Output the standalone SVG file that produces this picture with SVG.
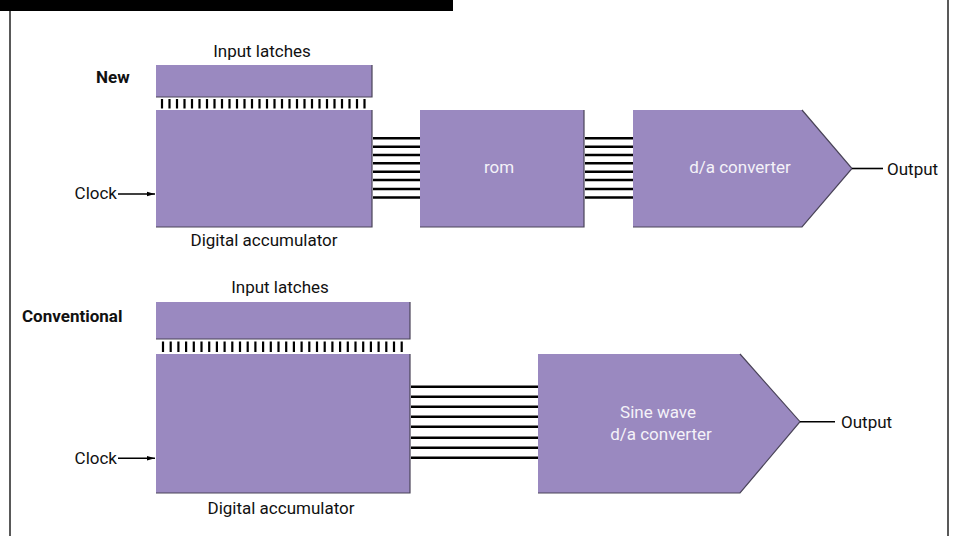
<svg xmlns="http://www.w3.org/2000/svg" width="959" height="536" viewBox="0 0 959 536">
<defs>
<marker id="arr" viewBox="0 0 8 6" refX="8" refY="3" markerWidth="8" markerHeight="6" markerUnits="userSpaceOnUse" orient="auto">
<path d="M0,0.8 L8,3 L0,5.2 Z" fill="#000"/>
</marker>
<style>
.blk{fill:#9a89c0;}
.edge{fill:none;stroke:#4a4458;stroke-width:1.2;}
.lbl{font-family:Roboto,"DejaVu Sans Condensed","Liberation Sans",sans-serif;font-size:17px;fill:#111;}
.bold{font-weight:bold;}
.in{font-family:Roboto,"DejaVu Sans Condensed","Liberation Sans",sans-serif;font-size:17px;fill:#f4f2f8;text-anchor:middle;}
.bus{stroke:#000;stroke-width:2.4;}
.tick{stroke:#000;stroke-width:2.2;}
.wire{stroke:#000;stroke-width:1.6;fill:none;}
.frame{stroke:#222;stroke-width:1.5;fill:none;}
</style>
</defs>
<rect width="959" height="536" fill="#fff"/>
<rect x="0" y="0" width="453" height="11" fill="#000"/>
<line class="frame" x1="10" y1="11" x2="10" y2="536"/>
<line class="frame" x1="948" y1="0" x2="948" y2="536"/>

<g id="label-new"><text class="lbl bold" x="96" y="83">New</text></g>
<g id="label-conventional"><text class="lbl bold" x="22" y="322">Conventional</text></g>

<g id="new-latches">
<rect class="blk" x="156" y="65" width="216" height="32"/>
<polyline class="edge" points="372,65 372,97 156,97"/>
<text class="lbl" x="262" y="57" text-anchor="middle">Input latches</text>
</g>
<g id="new-accumulator">
<rect class="blk" x="156" y="110" width="216" height="117"/>
<polyline class="edge" points="372,110 372,227 156,227"/>
<text class="lbl" x="264" y="246" text-anchor="middle">Digital accumulator</text>
</g>
<g id="new-rom">
<rect class="blk" x="420" y="110" width="164" height="117"/>
<polyline class="edge" points="584,110 584,227 420,227"/>
<text class="in" x="499" y="173">rom</text>
</g>
<g id="new-dac">
<polygon class="blk" points="633,110 802,110 852,168.5 802,227 633,227"/>
<polyline class="edge" points="802,110 852,168.5 802,227 633,227"/>
<text class="in" x="740" y="173">d/a converter</text>
</g>
<g id="new-clock"><text class="lbl" x="117" y="199" text-anchor="end">Clock</text></g>
<g id="new-output"><text class="lbl" x="887" y="175">Output</text></g>

<g id="conv-latches">
<rect class="blk" x="156" y="302" width="254" height="37"/>
<polyline class="edge" points="410,302 410,339 156,339"/>
<text class="lbl" x="280" y="293" text-anchor="middle">Input latches</text>
</g>
<g id="conv-accumulator">
<rect class="blk" x="156" y="354" width="254" height="139"/>
<polyline class="edge" points="410,354 410,493 156,493"/>
<text class="lbl" x="281" y="514" text-anchor="middle">Digital accumulator</text>
</g>
<g id="conv-dac">
<polygon class="blk" points="538,354 740,354 800,421.7 740,493 538,493"/>
<polyline class="edge" points="740,354 800,421.7 740,493 538,493"/>
<text class="in" x="658" y="418">Sine wave</text>
<text class="in" x="661" y="440">d/a converter</text>
</g>
<g id="conv-clock"><text class="lbl" x="117" y="464" text-anchor="end">Clock</text></g>
<g id="conv-output"><text class="lbl" x="841" y="428">Output</text></g>

<g id="connectors">
<g id="new-ticks">
<line class="tick" x1="162" y1="99" x2="162" y2="108.5"/>
<line class="tick" x1="169.5" y1="99" x2="169.5" y2="108.5"/>
<line class="tick" x1="177" y1="99" x2="177" y2="108.5"/>
<line class="tick" x1="184.5" y1="99" x2="184.5" y2="108.5"/>
<line class="tick" x1="192" y1="99" x2="192" y2="108.5"/>
<line class="tick" x1="199.5" y1="99" x2="199.5" y2="108.5"/>
<line class="tick" x1="207" y1="99" x2="207" y2="108.5"/>
<line class="tick" x1="214.5" y1="99" x2="214.5" y2="108.5"/>
<line class="tick" x1="222" y1="99" x2="222" y2="108.5"/>
<line class="tick" x1="229.5" y1="99" x2="229.5" y2="108.5"/>
<line class="tick" x1="237" y1="99" x2="237" y2="108.5"/>
<line class="tick" x1="244.5" y1="99" x2="244.5" y2="108.5"/>
<line class="tick" x1="252" y1="99" x2="252" y2="108.5"/>
<line class="tick" x1="259.5" y1="99" x2="259.5" y2="108.5"/>
<line class="tick" x1="267" y1="99" x2="267" y2="108.5"/>
<line class="tick" x1="274.5" y1="99" x2="274.5" y2="108.5"/>
<line class="tick" x1="282" y1="99" x2="282" y2="108.5"/>
<line class="tick" x1="289.5" y1="99" x2="289.5" y2="108.5"/>
<line class="tick" x1="297" y1="99" x2="297" y2="108.5"/>
<line class="tick" x1="304.5" y1="99" x2="304.5" y2="108.5"/>
<line class="tick" x1="312" y1="99" x2="312" y2="108.5"/>
<line class="tick" x1="319.5" y1="99" x2="319.5" y2="108.5"/>
<line class="tick" x1="327" y1="99" x2="327" y2="108.5"/>
<line class="tick" x1="334.5" y1="99" x2="334.5" y2="108.5"/>
<line class="tick" x1="342" y1="99" x2="342" y2="108.5"/>
<line class="tick" x1="349.5" y1="99" x2="349.5" y2="108.5"/>
<line class="tick" x1="357" y1="99" x2="357" y2="108.5"/>
<line class="tick" x1="364.5" y1="99" x2="364.5" y2="108.5"/>
</g>
<g id="conv-ticks">
<line class="tick" x1="163" y1="341.5" x2="163" y2="352"/>
<line class="tick" x1="170.7" y1="341.5" x2="170.7" y2="352"/>
<line class="tick" x1="178.4" y1="341.5" x2="178.4" y2="352"/>
<line class="tick" x1="186.1" y1="341.5" x2="186.1" y2="352"/>
<line class="tick" x1="193.8" y1="341.5" x2="193.8" y2="352"/>
<line class="tick" x1="201.5" y1="341.5" x2="201.5" y2="352"/>
<line class="tick" x1="209.2" y1="341.5" x2="209.2" y2="352"/>
<line class="tick" x1="216.9" y1="341.5" x2="216.9" y2="352"/>
<line class="tick" x1="224.6" y1="341.5" x2="224.6" y2="352"/>
<line class="tick" x1="232.3" y1="341.5" x2="232.3" y2="352"/>
<line class="tick" x1="240" y1="341.5" x2="240" y2="352"/>
<line class="tick" x1="247.7" y1="341.5" x2="247.7" y2="352"/>
<line class="tick" x1="255.4" y1="341.5" x2="255.4" y2="352"/>
<line class="tick" x1="263.1" y1="341.5" x2="263.1" y2="352"/>
<line class="tick" x1="270.8" y1="341.5" x2="270.8" y2="352"/>
<line class="tick" x1="278.5" y1="341.5" x2="278.5" y2="352"/>
<line class="tick" x1="286.2" y1="341.5" x2="286.2" y2="352"/>
<line class="tick" x1="293.9" y1="341.5" x2="293.9" y2="352"/>
<line class="tick" x1="301.6" y1="341.5" x2="301.6" y2="352"/>
<line class="tick" x1="309.3" y1="341.5" x2="309.3" y2="352"/>
<line class="tick" x1="317" y1="341.5" x2="317" y2="352"/>
<line class="tick" x1="324.7" y1="341.5" x2="324.7" y2="352"/>
<line class="tick" x1="332.4" y1="341.5" x2="332.4" y2="352"/>
<line class="tick" x1="340.1" y1="341.5" x2="340.1" y2="352"/>
<line class="tick" x1="347.8" y1="341.5" x2="347.8" y2="352"/>
<line class="tick" x1="355.5" y1="341.5" x2="355.5" y2="352"/>
<line class="tick" x1="363.2" y1="341.5" x2="363.2" y2="352"/>
<line class="tick" x1="370.9" y1="341.5" x2="370.9" y2="352"/>
<line class="tick" x1="378.6" y1="341.5" x2="378.6" y2="352"/>
<line class="tick" x1="386.3" y1="341.5" x2="386.3" y2="352"/>
<line class="tick" x1="394" y1="341.5" x2="394" y2="352"/>
<line class="tick" x1="401.7" y1="341.5" x2="401.7" y2="352"/>
</g>
<g id="bus-acc-rom">
<line class="bus" x1="373" y1="138.3" x2="420" y2="138.3"/>
<line class="bus" x1="373" y1="146.7" x2="420" y2="146.7"/>
<line class="bus" x1="373" y1="155" x2="420" y2="155"/>
<line class="bus" x1="373" y1="163.3" x2="420" y2="163.3"/>
<line class="bus" x1="373" y1="171.7" x2="420" y2="171.7"/>
<line class="bus" x1="373" y1="180" x2="420" y2="180"/>
<line class="bus" x1="373" y1="189" x2="420" y2="189"/>
<line class="bus" x1="373" y1="197.5" x2="420" y2="197.5"/>
</g>
<g id="bus-rom-dac">
<line class="bus" x1="585" y1="138.3" x2="633" y2="138.3"/>
<line class="bus" x1="585" y1="146.7" x2="633" y2="146.7"/>
<line class="bus" x1="585" y1="155" x2="633" y2="155"/>
<line class="bus" x1="585" y1="163.3" x2="633" y2="163.3"/>
<line class="bus" x1="585" y1="171.7" x2="633" y2="171.7"/>
<line class="bus" x1="585" y1="180" x2="633" y2="180"/>
<line class="bus" x1="585" y1="189" x2="633" y2="189"/>
<line class="bus" x1="585" y1="197.5" x2="633" y2="197.5"/>
</g>
<g id="bus-conv">
<line class="bus" x1="411" y1="386.7" x2="538" y2="386.7"/>
<line class="bus" x1="411" y1="396.7" x2="538" y2="396.7"/>
<line class="bus" x1="411" y1="406.7" x2="538" y2="406.7"/>
<line class="bus" x1="411" y1="416.7" x2="538" y2="416.7"/>
<line class="bus" x1="411" y1="426.7" x2="538" y2="426.7"/>
<line class="bus" x1="411" y1="437.7" x2="538" y2="437.7"/>
<line class="bus" x1="411" y1="447.7" x2="538" y2="447.7"/>
<line class="bus" x1="411" y1="457.7" x2="538" y2="457.7"/>
</g>
<line class="wire" x1="118" y1="194" x2="155" y2="194" marker-end="url(#arr)"/>
<line class="wire" x1="118" y1="458.3" x2="155" y2="458.3" marker-end="url(#arr)"/>
<line class="wire" x1="852" y1="168.5" x2="883" y2="168.5"/>
<line class="wire" x1="800" y1="421.7" x2="835" y2="421.7"/>
</g>
</svg>
